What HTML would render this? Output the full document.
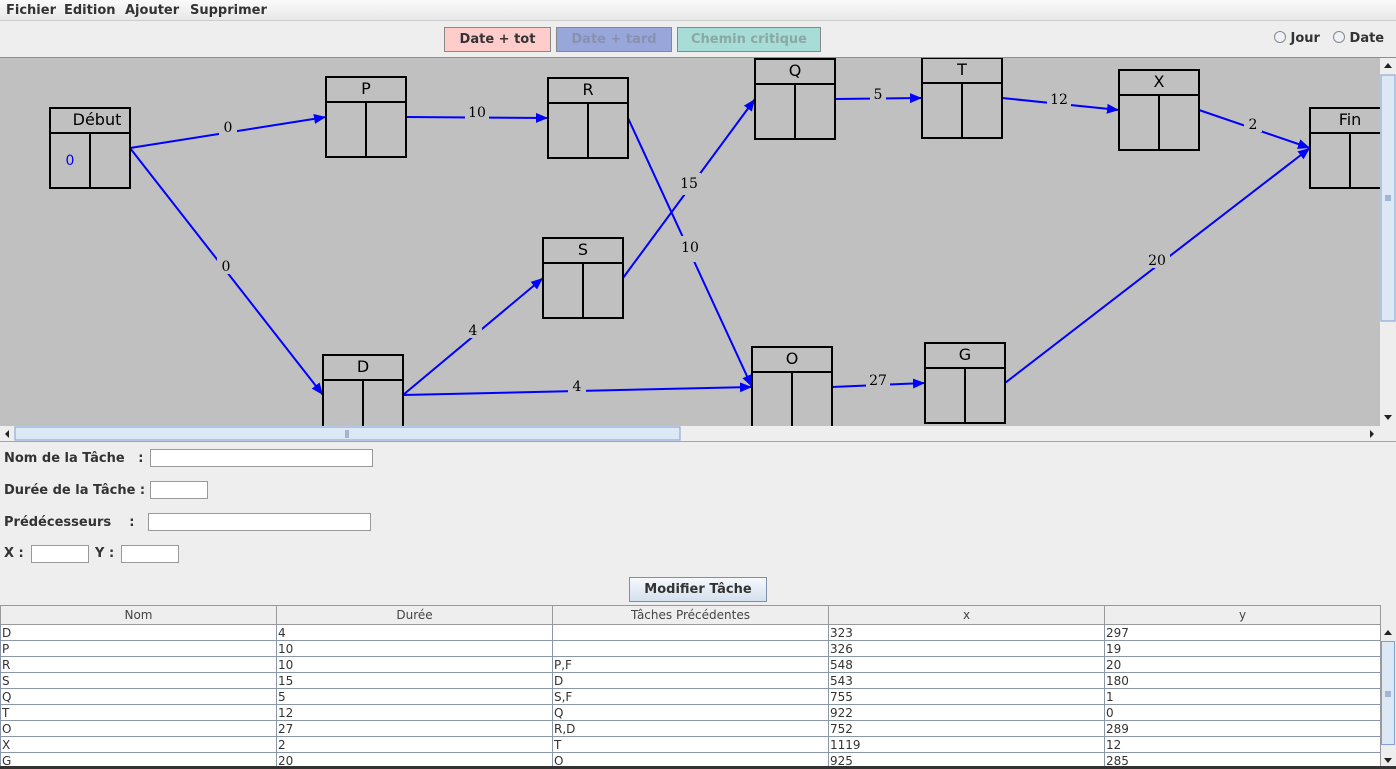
<!DOCTYPE html>
<html><head><meta charset="utf-8">
<style>
*{margin:0;padding:0;box-sizing:border-box}
body{width:1396px;height:769px;background:#eeeeee;font-family:"DejaVu Sans","Liberation Sans",sans-serif;position:relative;overflow:hidden;color:#333}
.a{position:absolute}
.menu{top:0;left:0;width:1396px;height:21px;background:linear-gradient(#fafafa,#e8e8e8);border-bottom:1px solid #ccc;font-size:13px;font-weight:bold;color:#333}
.menu span{position:absolute;top:3px}
.btn{top:27px;height:25px;border:1px solid #888;font-size:13px;font-weight:bold;text-align:center;line-height:23px}
.lbl{font-size:13px;font-weight:bold;color:#333}
.inp{background:#fff;border:1px solid #999;height:18px}
table{border-collapse:collapse;font-size:12px;table-layout:fixed}
td{border:1px solid #8a97a8;height:16px;line-height:14px;padding:0 1px;color:#333;overflow:hidden;white-space:nowrap;background:#fff}
th{border:1px solid #999;height:19px;font-weight:normal;color:#444;background:#eee}
</style></head><body>
<div class="a menu"><span style="left:6px">Fichier</span><span style="left:64px">Edition</span><span style="left:125px">Ajouter</span><span style="left:190px">Supprimer</span></div>
<div class="a btn" style="left:444px;width:107px;background:#ffcccc;color:#333">Date + tot</div>
<div class="a btn" style="left:556px;width:116px;background:#99a6d9;color:#8891b0">Date + tard</div>
<div class="a btn" style="left:677px;width:144px;background:#a8dcd6;color:#8aa8a4">Chemin critique</div>
<div class="a lbl" style="left:1274px;top:31px"><span style="display:inline-block;width:12px;height:12px;border:1px solid #888;border-radius:50%;background:#eef2f8;vertical-align:-1px"></span> Jour</div>
<div class="a lbl" style="left:1333px;top:31px"><span style="display:inline-block;width:12px;height:12px;border:1px solid #888;border-radius:50%;background:#eef2f8;vertical-align:-1px"></span> Date</div>
<div class="a" style="left:0;top:57px;width:1396px;height:1px;background:#8a8f98"></div>
<svg class="a" style="left:0;top:58px" width="1396" height="384" viewBox="0 58 1396 384">
<defs><marker id="ar" markerWidth="12" markerHeight="10" refX="12" refY="5" orient="auto" markerUnits="userSpaceOnUse"><path d="M0,0 L12,5 L0,10 z" fill="#0000ff"/></marker></defs>
<rect x="0" y="58" width="1380" height="368" fill="#c0c0c0"/>
<g stroke="#0000ff" stroke-width="2" fill="none" marker-end="url(#ar)">
<line x1="130" y1="148" x2="326" y2="117"/>
<line x1="406" y1="117" x2="548" y2="118"/>
<line x1="130" y1="148" x2="323" y2="395"/>
<line x1="403" y1="395" x2="543" y2="278"/>
<line x1="403" y1="395" x2="752" y2="387"/>
<line x1="628" y1="118" x2="752" y2="387"/>
<line x1="623" y1="278" x2="755" y2="99"/>
<line x1="835" y1="99" x2="922" y2="98"/>
<line x1="1002" y1="98" x2="1119" y2="110"/>
<line x1="1199" y1="110" x2="1310" y2="148"/>
<line x1="832" y1="387" x2="925" y2="383"/>
<line x1="1005" y1="383" x2="1310" y2="148"/>
</g>
<g font-family="'DejaVu Serif','Liberation Serif',serif" font-size="14" text-anchor="middle" fill="#000">
<rect x="219" y="119" width="18" height="16" fill="#c0c0c0"/><text x="228" y="132">0</text>
<rect x="465" y="103" width="24" height="16" fill="#c0c0c0"/><text x="477" y="117">10</text>
<rect x="217" y="258" width="18" height="16" fill="#c0c0c0"/><text x="226" y="271">0</text>
<rect x="464" y="322" width="18" height="16" fill="#c0c0c0"/><text x="473" y="335">4</text>
<rect x="568" y="378" width="18" height="16" fill="#c0c0c0"/><text x="577" y="391">4</text>
<rect x="677" y="173" width="24" height="22" fill="#c0c0c0"/><text x="689" y="188">15</text>
<rect x="678" y="236" width="24" height="26" fill="#c0c0c0"/><text x="690" y="252">10</text>
<rect x="870" y="86" width="16" height="16" fill="#c0c0c0"/><text x="878" y="99">5</text>
<rect x="1047" y="91" width="24" height="16" fill="#c0c0c0"/><text x="1059" y="104">12</text>
<rect x="1244" y="116" width="18" height="16" fill="#c0c0c0"/><text x="1253" y="129">2</text>
<rect x="866" y="372" width="24" height="16" fill="#c0c0c0"/><text x="878" y="385">27</text>
<rect x="1144" y="252" width="26" height="16" fill="#c0c0c0"/><text x="1157" y="265">20</text>
</g>
<g stroke="#000" stroke-width="2" fill="none">
<rect x="50" y="108" width="80" height="80"/><line x1="50" y1="133" x2="130" y2="133"/><line x1="90" y1="133" x2="90" y2="188"/>
<rect x="326" y="77" width="80" height="80"/><line x1="326" y1="102" x2="406" y2="102"/><line x1="366" y1="102" x2="366" y2="157"/>
<rect x="548" y="78" width="80" height="80"/><line x1="548" y1="103" x2="628" y2="103"/><line x1="588" y1="103" x2="588" y2="158"/>
<rect x="543" y="238" width="80" height="80"/><line x1="543" y1="263" x2="623" y2="263"/><line x1="583" y1="263" x2="583" y2="318"/>
<rect x="755" y="59" width="80" height="80"/><line x1="755" y1="84" x2="835" y2="84"/><line x1="795" y1="84" x2="795" y2="139"/>
<rect x="922" y="58" width="80" height="80"/><line x1="922" y1="83" x2="1002" y2="83"/><line x1="962" y1="83" x2="962" y2="138"/>
<rect x="1119" y="70" width="80" height="80"/><line x1="1119" y1="95" x2="1199" y2="95"/><line x1="1159" y1="95" x2="1159" y2="150"/>
<rect x="925" y="343" width="80" height="80"/><line x1="925" y1="368" x2="1005" y2="368"/><line x1="965" y1="368" x2="965" y2="423"/>
<rect x="752" y="347" width="80" height="80"/><line x1="752" y1="372" x2="832" y2="372"/><line x1="792" y1="372" x2="792" y2="427"/>
<rect x="323" y="355" width="80" height="80"/><line x1="323" y1="380" x2="403" y2="380"/><line x1="363" y1="380" x2="363" y2="435"/>
<rect x="1310" y="108" width="80" height="80"/><line x1="1310" y1="133" x2="1390" y2="133"/><line x1="1350" y1="133" x2="1350" y2="188"/>
</g>
<g font-family="'DejaVu Sans',sans-serif" font-size="16" text-anchor="middle" fill="#000">
<text x="97" y="125">Début</text><text x="366" y="94">P</text><text x="588" y="95">R</text><text x="583" y="255">S</text>
<text x="795" y="76">Q</text><text x="962" y="75">T</text><text x="1159" y="87">X</text><text x="965" y="360">G</text>
<text x="792" y="364">O</text><text x="363" y="372">D</text><text x="1350" y="125">Fin</text>
<text x="70" y="165" fill="#0000ff" font-size="14">0</text>
</g>
<rect x="0" y="426" width="1396" height="16" fill="#eee"/>
<rect x="1380" y="58" width="16" height="368" fill="#eee"/>
<rect x="1381" y="75" width="14" height="246" fill="#dde8f5" stroke="#7f9fd6"/>
<path d="M1384,68 L1392,68 L1388,63 z" fill="#222"/>
<path d="M1384,415 L1392,415 L1388,420 z" fill="#222"/>
<line x1="1385" y1="196" x2="1391" y2="196" stroke="#6a7fb0"/><line x1="1385" y1="198" x2="1391" y2="198" stroke="#6a7fb0"/><line x1="1385" y1="200" x2="1391" y2="200" stroke="#6a7fb0"/>
<rect x="15" y="427" width="665" height="13" fill="#dde8f5" stroke="#7f9fd6"/>
<path d="M9,430 L9,438 L5,434 z" fill="#222"/>
<path d="M1370,430 L1370,438 L1374,434 z" fill="#222"/>
<line x1="346" y1="430" x2="346" y2="438" stroke="#6a7fb0"/><line x1="348" y1="430" x2="348" y2="438" stroke="#6a7fb0"/>
<line x1="0" y1="441.5" x2="1396" y2="441.5" stroke="#9aa"/>
</svg>
<div class="a lbl" style="left:4px;top:451px">Nom de la Tâche &nbsp;&nbsp;:</div>
<div class="a inp" style="left:150px;top:449px;width:223px"></div>
<div class="a lbl" style="left:4px;top:483px">Durée de la Tâche :</div>
<div class="a inp" style="left:150px;top:481px;width:58px"></div>
<div class="a lbl" style="left:4px;top:515px">Prédécesseurs &nbsp;&nbsp;&nbsp;:</div>
<div class="a inp" style="left:148px;top:513px;width:223px"></div>
<div class="a lbl" style="left:4px;top:546px">X :</div>
<div class="a inp" style="left:31px;top:545px;width:58px"></div>
<div class="a lbl" style="left:95px;top:546px">Y :</div>
<div class="a inp" style="left:121px;top:545px;width:58px"></div>
<div class="a" style="left:629px;top:577px;width:138px;height:25px;border:1px solid #7f8fa8;background:linear-gradient(#f6f9fd,#d4e0ee);font-size:13px;font-weight:bold;text-align:center;line-height:23px;color:#333">Modifier Tâche</div>
<table class="a" style="left:0;top:605px;width:1380px">
<colgroup><col style="width:276px"><col style="width:276px"><col style="width:276px"><col style="width:276px"><col style="width:276px"></colgroup>
<tr><th>Nom</th><th>Durée</th><th>Tâches Précédentes</th><th>x</th><th>y</th></tr>
<tr><td>D</td><td>4</td><td></td><td>323</td><td>297</td></tr>
<tr><td>P</td><td>10</td><td></td><td>326</td><td>19</td></tr>
<tr><td>R</td><td>10</td><td>P,F</td><td>548</td><td>20</td></tr>
<tr><td>S</td><td>15</td><td>D</td><td>543</td><td>180</td></tr>
<tr><td>Q</td><td>5</td><td>S,F</td><td>755</td><td>1</td></tr>
<tr><td>T</td><td>12</td><td>Q</td><td>922</td><td>0</td></tr>
<tr><td>O</td><td>27</td><td>R,D</td><td>752</td><td>289</td></tr>
<tr><td>X</td><td>2</td><td>T</td><td>1119</td><td>12</td></tr>
<tr><td>G</td><td>20</td><td>O</td><td>925</td><td>285</td></tr>
</table>
<div class="a" style="left:1380px;top:605px;width:16px;height:162px;background:#eee;border-left:1px solid #999"></div>
<div class="a" style="left:1381px;top:641px;width:14px;height:104px;background:#dde8f5;border:1px solid #7f9fd6"></div>
<svg class="a" style="left:1380px;top:605px" width="16" height="162"><path d="M4,30 L12,30 L8,25 z" fill="#222"/><path d="M4,153 L12,153 L8,158 z" fill="#222"/><line x1="5" y1="87" x2="11" y2="87" stroke="#6a7fb0"/><line x1="5" y1="89" x2="11" y2="89" stroke="#6a7fb0"/><line x1="5" y1="91" x2="11" y2="91" stroke="#6a7fb0"/></svg>
<div class="a" style="left:0;top:766px;width:1396px;height:3px;background:#333"></div>
</body></html>
